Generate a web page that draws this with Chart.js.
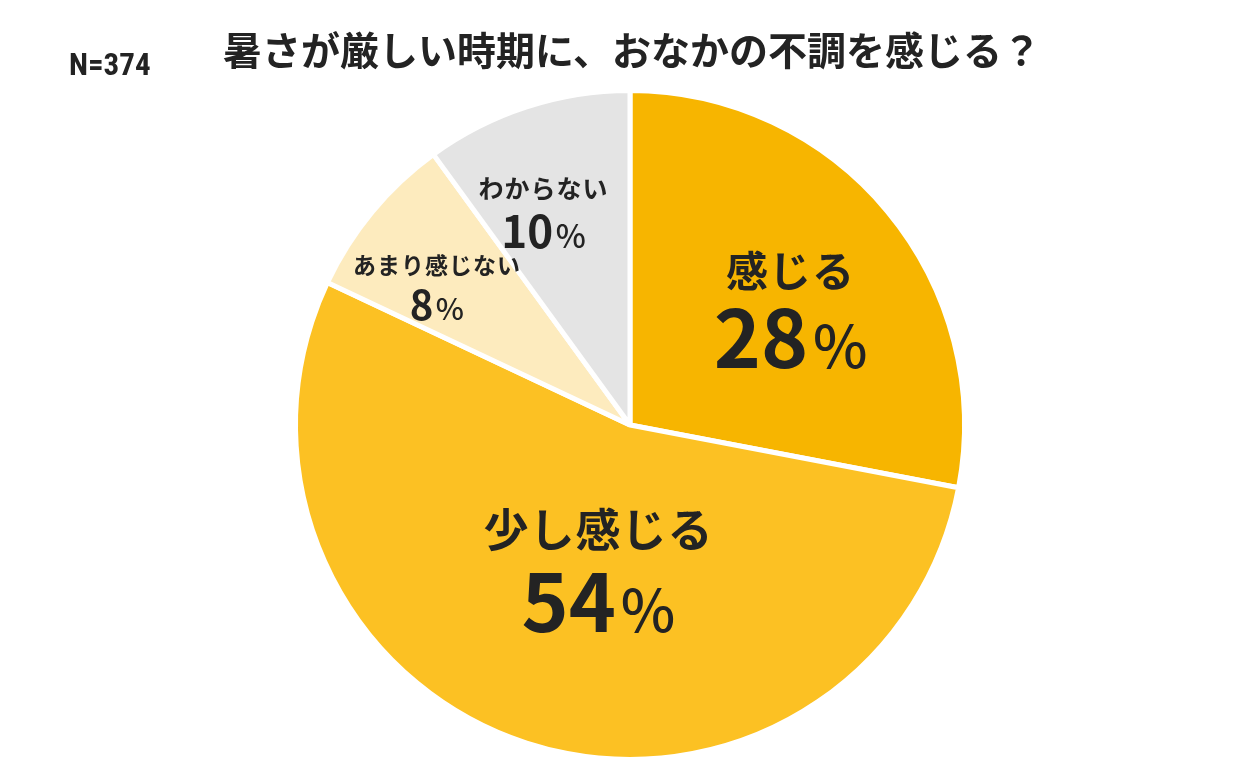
<!DOCTYPE html>
<html lang="ja">
<head>
<meta charset="utf-8">
<title>暑さが厳しい時期に、おなかの不調を感じる？</title>
<script src="https://cdn.jsdelivr.net/npm/chart.js@4.4.1/dist/chart.umd.min.js"></script>
<style>
  html, body { margin: 0; padding: 0; background: #fff; }
  #wrap { width: 1250px; height: 782px; position: relative; }
</style>
</head>
<body>
<div id="wrap"><canvas id="pieChart" width="1250" height="782"></canvas></div>
<script>
var titleText = '暑さが厳しい時期に、おなかの不調を感じる？';
var sampleText = 'N=374';
var labels = ['感じる', '少し感じる', 'あまり感じない', 'わからない'];
var values = [28, 54, 8, 10];
var colors = ['#F7B500', '#FCC123', '#FDEBBE', '#E4E4E4'];

// label styling per slice: angle shift (deg), radial distance (fraction of radius),
// font sizes, vertical offsets of name line / digit centre from the block centre
var labelStyle = [
  { shift: 3.4,  dist: 0.595, nameSize: 42, numSize: 80, pctSize: 58, nameDy: -36, numDy: 32 },
  { shift: -5.6, dist: 0.44,  nameSize: 45, numSize: 80, pctSize: 58, nameDy: -39, numDy: 34 },
  { shift: -4,   dist: 0.71,  nameSize: 23, numSize: 40, pctSize: 30, nameDy: -21, numDy: 19 },
  { shift: -4,   dist: 0.69,  nameSize: 25, numSize: 44, pctSize: 32, nameDy: -23, numDy: 21 }
];

var jpFont = '"Noto Sans CJK JP", "Noto Sans", sans-serif';
var textColor = '#232323';

var headerPlugin = {
  id: 'header',
  afterDraw: function(chart) {
    var ctx = chart.ctx;
    ctx.save();
    ctx.fillStyle = textColor;
    ctx.textBaseline = 'middle';
    ctx.textAlign = 'center';
    ctx.font = '700 39px ' + jpFont;
    ctx.fillText(titleText, 632, 50);
    ctx.textAlign = 'left';
    ctx.font = '700 31px "Liberation Sans Narrow", "Roboto Condensed", Roboto, sans-serif';
    ctx.fillText(sampleText, 69, 67);
    ctx.restore();
  }
};

var sliceLabels = {
  id: 'sliceLabels',
  afterDatasetsDraw: function(chart) {
    var ctx = chart.ctx;
    var meta = chart.getDatasetMeta(0);
    ctx.save();
    ctx.fillStyle = textColor;
    meta.data.forEach(function(arc, i) {
      var s = labelStyle[i];
      var mid = (arc.startAngle + arc.endAngle) / 2 + s.shift * Math.PI / 180;
      var r = arc.outerRadius * s.dist;
      var cx = arc.x + Math.cos(mid) * r;
      var cy = arc.y + Math.sin(mid) * r;
      // name line
      ctx.textAlign = 'center';
      ctx.textBaseline = 'middle';
      ctx.letterSpacing = '1px';
      ctx.font = '700 ' + s.nameSize + 'px ' + jpFont;
      ctx.fillText(labels[i], cx, cy + s.nameDy);
      ctx.letterSpacing = '0px';
      // value line: number + smaller percent sign
      var num = String(values[i]);
      var pad = s.numSize * 0.06;
      ctx.font = '700 ' + s.numSize + 'px ' + jpFont;
      var wNum = ctx.measureText(num).width;
      ctx.font = '500 ' + s.pctSize + 'px ' + jpFont;
      var wPct = ctx.measureText('%').width;
      var x0 = cx - (wNum + wPct + pad) / 2;
      var base = cy + s.numDy + s.numSize * 0.36;
      ctx.textAlign = 'left';
      ctx.textBaseline = 'alphabetic';
      ctx.font = '700 ' + s.numSize + 'px ' + jpFont;
      ctx.fillText(num, x0, base);
      ctx.font = '500 ' + s.pctSize + 'px ' + jpFont;
      ctx.fillText('%', x0 + wNum + pad, base);
    });
    ctx.restore();
  }
};

var ctx1 = document.getElementById('pieChart').getContext('2d');
new Chart(ctx1, {
  type: 'pie',
  data: {
    labels: labels,
    datasets: [{
      data: values,
      backgroundColor: colors,
      borderColor: '#ffffff',
      borderWidth: 5
    }]
  },
  options: {
    responsive: false,
    animation: false,
    layout: { padding: { top: 88, bottom: 20, left: 10, right: 0 } },
    plugins: {
      legend: { display: false },
      tooltip: { enabled: false },
      title: { display: false }
    }
  },
  plugins: [sliceLabels, headerPlugin]
});
</script>
</body>
</html>
